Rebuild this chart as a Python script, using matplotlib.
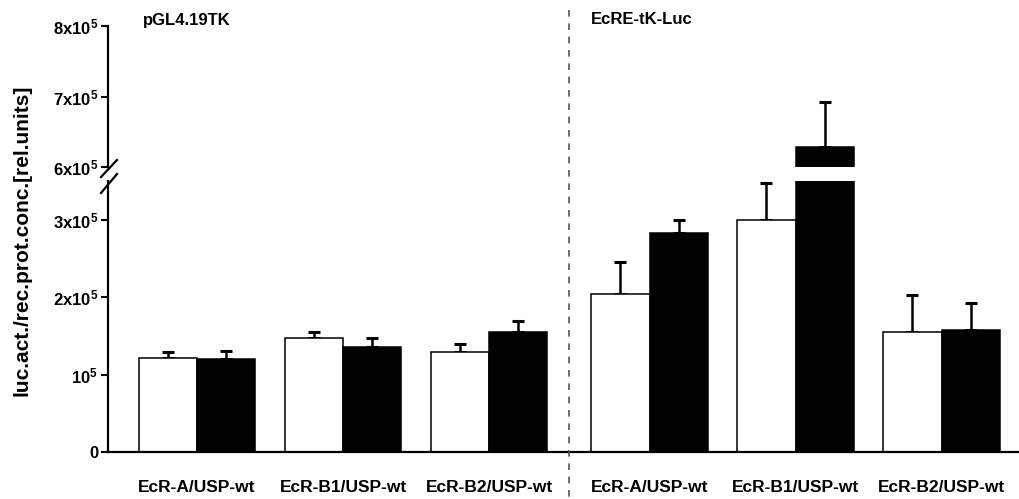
import numpy as np
import matplotlib
matplotlib.use('Agg')
import matplotlib.pyplot as plt
from matplotlib.lines import Line2D

plt.rcParams['font.family'] = ['Liberation Sans', 'DejaVu Sans']
plt.rcParams['font.weight'] = 'bold'
plt.rcParams['mathtext.fontset'] = 'custom'
plt.rcParams['mathtext.bf'] = 'Liberation Sans:bold'
plt.rcParams['mathtext.rm'] = 'Liberation Sans:bold'

## data ##
groups = ['EcR-A/USP-wt', 'EcR-B1/USP-wt', 'EcR-B2/USP-wt',
          'EcR-A/USP-wt', 'EcR-B1/USP-wt', 'EcR-B2/USP-wt']
white = np.array([1.22, 1.473, 1.286, 2.035, 2.996, 1.555]) * 1e5
white_err = np.array([0.075, 0.077, 0.109, 0.415, 0.474, 0.475]) * 1e5
black = np.array([1.20, 1.35, 1.545, 2.83, 6.28, 1.57]) * 1e5
black_err = np.array([0.108, 0.127, 0.145, 0.16, 0.64, 0.36]) * 1e5
panel_titles = ['pGL4.19TK', 'EcRE-tK-Luc']

low_ticks = [0, 1e5, 2e5, 3e5]
low_ticklabels = ['0', r'$\mathbf{10^{5}}$', r'$\mathbf{2x10^{5}}$', r'$\mathbf{3x10^{5}}$']
up_ticks = [6e5, 7e5, 8e5]
up_ticklabels = [r'$\mathbf{6x10^{5}}$', r'$\mathbf{7x10^{5}}$', r'$\mathbf{8x10^{5}}$']

W, H = 1020, 499
fig = plt.figure(figsize=(W/100, H/100), dpi=100)

def fx(px):
    return px / W

def fy(py):
    return 1 - py / H

ax_lo = fig.add_axes([fx(108), fy(452), fx(1020) - fx(108), fy(181) - fy(452)])
ax_up = fig.add_axes([fx(108), fy(167), fx(1020) - fx(108), fy(26) - fy(167)])

# second panel sits a little further right (gap at the divider)
x = np.array([0, 1, 2, 3.1, 4.1, 5.1])
w = 0.40

for ax in (ax_lo, ax_up):
    ax.bar(x - w/2, white, w, color='white', edgecolor='black', linewidth=1.1, zorder=2)
    ax.bar(x + w/2, black, w, color='black', edgecolor='black', linewidth=1.1, zorder=2)
    ax.errorbar(x - w/2, white, yerr=[np.zeros(len(x)), white_err], fmt='none',
                ecolor='black', elinewidth=1.8, capsize=4.5, capthick=2.2, zorder=1)
    ax.errorbar(x + w/2, black, yerr=[np.zeros(len(x)), black_err], fmt='none',
                ecolor='black', elinewidth=1.8, capsize=4.5, capthick=2.2, zorder=1)
    ax.set_xlim(-0.61, 5.637)
    ax.spines['top'].set_visible(False)
    ax.spines['right'].set_visible(False)
    ax.spines['left'].set_linewidth(1.6)
    ax.spines['bottom'].set_linewidth(1.6)
    ax.tick_params(axis='y', direction='out', length=5, width=1.5, labelsize=12, pad=2)
    ax.patch.set_visible(False)

ax_lo.set_ylim(0, 3.5e5)
ax_lo.set_yticks(low_ticks)
ax_lo.set_yticklabels(low_ticklabels)
ax_lo.set_xticks(x)
ax_lo.set_xticklabels(groups, fontsize=12.5, fontweight='bold')
ax_lo.tick_params(axis='x', length=0, pad=20)

ax_up.set_ylim(6e5, 8e5)
ax_up.set_yticks(up_ticks)
ax_up.set_yticklabels(up_ticklabels)
ax_up.spines['bottom'].set_visible(False)
ax_up.set_xticks([])

## axis break marks ##
for (x0, y0, x1, y1) in [(101, 177, 117, 160), (101, 193, 117, 174)]:
    fig.add_artist(Line2D([fx(x0), fx(x1)], [fy(y0), fy(y1)], color='black',
                          linewidth=1.6, transform=fig.transFigure))

## dashed divider ##
fig.add_artist(Line2D([fx(569), fx(569)], [fy(10), fy(499)], color='#555555',
                      linewidth=1.2, linestyle=(0, (4, 4)), transform=fig.transFigure))

fig.text(fx(143), fy(20), panel_titles[0], fontsize=12, fontweight='bold', va='center', ha='left')
fig.text(fx(591), fy(19), panel_titles[1], fontsize=12, fontweight='bold', va='center', ha='left')

fig.text(fx(22), fy(240), 'luc.act./rec.prot.conc.[rel.units]', fontsize=15,
         fontweight='bold', rotation=90, va='center', ha='center')

plt.savefig('out.png', dpi=100)
